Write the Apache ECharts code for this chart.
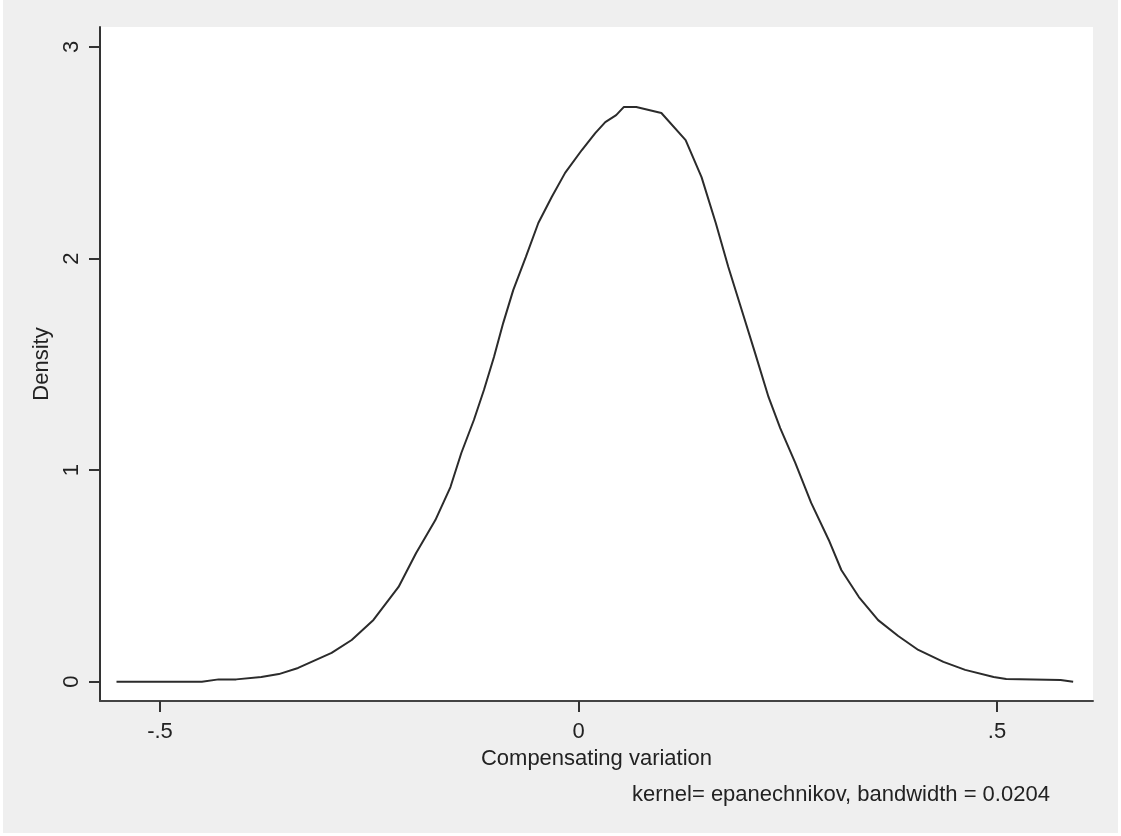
<!DOCTYPE html>
<html>
<head>
<meta charset="utf-8">
<script src="https://cdn.jsdelivr.net/npm/echarts@6/dist/echarts.min.js"></script>
<style>
  html, body { margin: 0; padding: 0; background: #ffffff; }
  #chart { position: absolute; left: 3px; top: 0; width: 1115px; height: 833px; }
</style>
</head>
<body>
<div id="chart"></div>
<script>
// kernel density estimate
const cvX = [-0.552, -0.450, -0.430, -0.409, -0.379, -0.358, -0.335, -0.295, -0.271, -0.245,
  -0.215, -0.194, -0.171, -0.153, -0.140, -0.125, -0.113, -0.101, -0.090, -0.078,
  -0.063, -0.048, -0.032, -0.016, 0.004, 0.020, 0.032, 0.045, 0.054, 0.069,
  0.099, 0.128, 0.147, 0.164, 0.179, 0.195, 0.211, 0.227, 0.241, 0.259,
  0.278, 0.299, 0.314, 0.335, 0.358, 0.382, 0.406, 0.436, 0.462, 0.496,
  0.511, 0.576, 0.591];
const density = [0.000, 0.000, 0.011, 0.011, 0.022, 0.036, 0.065, 0.136, 0.197, 0.292,
  0.448, 0.608, 0.764, 0.920, 1.081, 1.237, 1.379, 1.535, 1.695, 1.851,
  2.007, 2.168, 2.291, 2.405, 2.513, 2.593, 2.645, 2.678, 2.716, 2.716,
  2.688, 2.560, 2.385, 2.168, 1.960, 1.757, 1.553, 1.346, 1.199, 1.034,
  0.845, 0.670, 0.528, 0.400, 0.291, 0.216, 0.150, 0.094, 0.056, 0.022,
  0.013, 0.008, 0.000];

const xTicks = [-0.5, 0, 0.5];
const yTicks = [0, 1, 2, 3];
const xTickText = { '-0.5': '-.5', '0': '0', '0.5': '.5' };
const note = 'kernel= epanechnikov, bandwidth = 0.0204';

const font = 'Liberation Sans, Arial, sans-serif';
const points = cvX.map((x, i) => [x, density[i]]);

const chart = echarts.init(document.getElementById('chart'));
chart.setOption({
  animation: false,
  backgroundColor: '#efefef',
  grid: { left: 97, right: 25, top: 27, bottom: 132, show: true, backgroundColor: '#ffffff', borderWidth: 0 },
  xAxis: {
    type: 'value',
    min: -0.5717,
    max: 0.6147,
    name: 'Compensating variation',
    nameLocation: 'middle',
    nameGap: 42,
    nameTextStyle: { color: '#222', fontSize: 22, fontFamily: font },
    axisLine: { show: true, onZero: false, lineStyle: { color: '#444', width: 2 } },
    axisTick: { show: true, length: 11, customValues: xTicks, lineStyle: { color: '#333', width: 2 } },
    axisLabel: {
      customValues: xTicks, margin: 20, color: '#222', fontSize: 22, fontFamily: font,
      formatter: v => xTickText[String(v)] ?? String(v)
    },
    splitLine: { show: false }
  },
  yAxis: {
    type: 'value',
    min: -0.0912,
    max: 3.0945,
    name: 'Density',
    nameLocation: 'middle',
    nameGap: 40,
    nameRotate: 90,
    nameTextStyle: { color: '#222', fontSize: 22, fontFamily: font },
    axisLine: { show: true, onZero: false, lineStyle: { color: '#333', width: 2 } },
    axisTick: { show: true, length: 11, customValues: yTicks, lineStyle: { color: '#333', width: 2 } },
    axisLabel: { customValues: yTicks, rotate: 90, margin: 17, color: '#222', fontSize: 22, fontFamily: font },
    splitLine: { show: false }
  },
  graphic: [{
    type: 'text',
    left: 629,
    top: 784,
    style: { text: note, fill: '#222', font: '22px ' + font }
  }],
  series: [{
    type: 'line',
    data: points,
    showSymbol: false,
    smooth: false,
    lineStyle: { color: '#2b2b2b', width: 2 }
  }]
});
</script>
</body>
</html>
